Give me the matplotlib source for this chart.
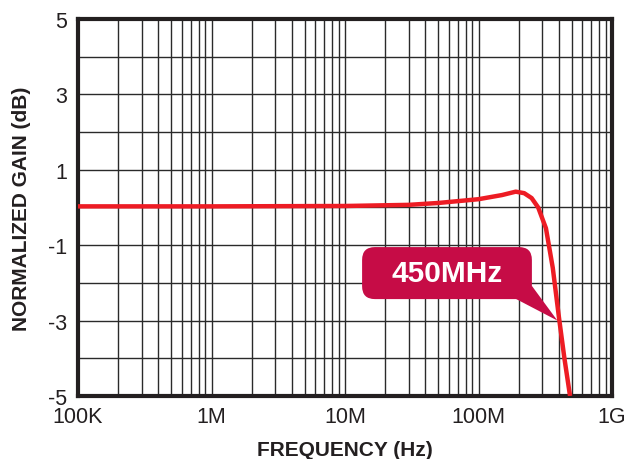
import numpy as np
import matplotlib.pyplot as plt
from matplotlib.patches import FancyBboxPatch, Polygon
from matplotlib.ticker import LogLocator, NullFormatter, FixedLocator

plt.rcParams['font.family'] = ['Liberation Sans', 'DejaVu Sans']
plt.rcParams['axes.unicode_minus'] = False

# frequency response
freq = [1e5, 1e6, 1e7, 3e7, 5e7, 1e8, 1.5e8, 1.9e8, 2.2e8, 2.5e8, 2.8e8,
        3.2e8, 3.6e8, 4.0e8, 4.4e8, 4.85e8]
gain = [0.03, 0.03, 0.04, 0.07, 0.12, 0.22, 0.33, 0.42, 0.38, 0.25, 0.0,
        -0.55, -1.6, -2.9, -4.0, -5.0]

x_ticks = [1e5, 1e6, 1e7, 1e8, 1e9]
x_labels = ["100K", "1M", "10M", "100M", "1G"]
y_ticks = [-5, -3, -1, 1, 3, 5]
note = "450MHz"
note_point = (3.9e8, -3.0)

fig = plt.figure(figsize=(6.25, 4.6), dpi=100)
ax = fig.add_axes([0.1248, 0.137, 0.8544, 0.8195])

ax.plot(freq, gain, color="#ED1C24", lw=3.2, solid_capstyle="butt", zorder=3)

ax.set_xscale("log")
ax.set_xlim(1e5, 1e9)
ax.set_ylim(-5, 5)
ax.set_xticks(x_ticks)
ax.set_xticklabels(x_labels)
ax.xaxis.set_minor_locator(LogLocator(base=10, subs=np.arange(2, 10)))
ax.xaxis.set_minor_formatter(NullFormatter())
ax.set_yticks(y_ticks)
ax.yaxis.set_minor_locator(FixedLocator(np.arange(-4, 5, 2)))

ax.grid(True, which="both", color="#2a2a2a", lw=1.0)
ax.tick_params(which="both", length=0, labelsize=15.5, colors="#231F20")
ax.tick_params(axis="x", pad=7.5)
ax.tick_params(axis="y", pad=8)
for s in ax.spines.values():
    s.set_linewidth(3)
    s.set_color("#231F20")

ax.set_xlabel("FREQUENCY (Hz)", fontsize=15, fontweight="bold", color="#231F20", labelpad=9)
ax.set_ylabel("NORMALIZED GAIN (dB)", fontsize=15, fontweight="bold", color="#231F20", labelpad=12)

# callout box
box_col = "#C60C46"
x0, y0, w, h = 0.532, 0.257, 0.318, 0.138
box = FancyBboxPatch((x0, y0), w, h, boxstyle="round,pad=0,rounding_size=0.024",
                     mutation_aspect=534 / 377, transform=ax.transAxes,
                     facecolor=box_col, edgecolor="none", zorder=4)
ax.add_patch(box)
tip = ax.transAxes.inverted().transform(ax.transData.transform(note_point))
tail = Polygon([(0.818, y0 + 0.002), (x0 + w, 0.292), tuple(tip)], closed=True,
               transform=ax.transAxes, facecolor=box_col, edgecolor="none", zorder=4)
ax.add_patch(tail)
ax.text(x0 + w / 2, y0 + h / 2, note, transform=ax.transAxes, ha="center", va="center",
        fontsize=21.5, fontweight="bold", color="white", zorder=5)

fig.savefig("out.png", dpi=100)
